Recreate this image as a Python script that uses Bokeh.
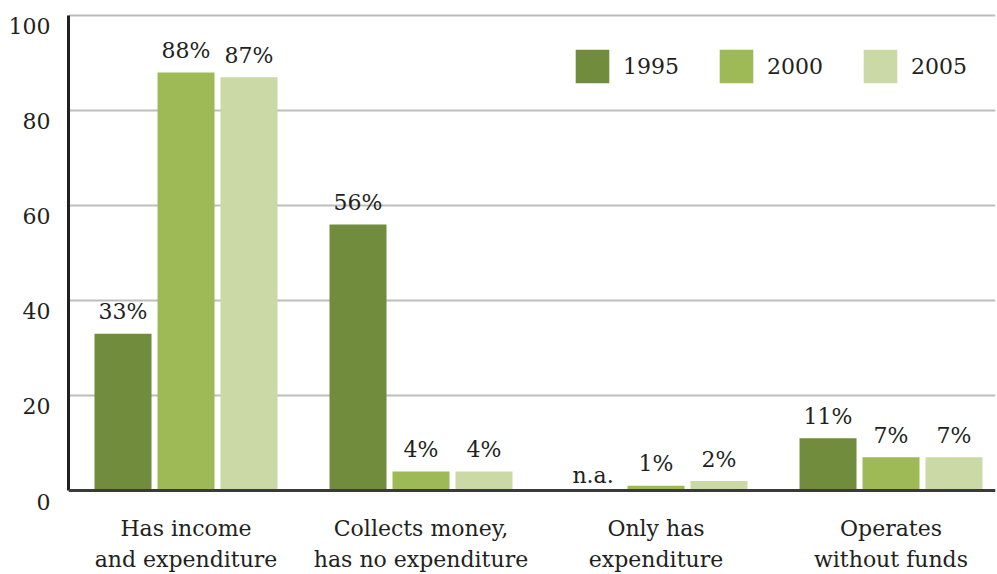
import numpy as np
from bokeh.plotting import figure
from bokeh.models import (ColumnDataSource, Range1d, FixedTicker, Legend, LegendItem,
                          LinearAxis, Span, Grid)
from bokeh.core.properties import value
from bokeh.embed import file_html
from bokeh.resources import INLINE

categories = ["Has income\nand expenditure", "Collects money,\nhas no expenditure",
              "Only has\nexpenditure", "Operates\nwithout funds"]
years = ["1995", "2000", "2005"]
v1995 = [33, 56, None, 11]
v2000 = [88, 4, 1, 7]
v2005 = [87, 4, 2, 7]
yticks = [0, 20, 40, 60, 80, 100]

colors = ["#728C3E", "#9DBA57", "#CBD9A6"]
FONT = "DejaVu Serif"
TXT = "#231F20"
FS = "22px"

PX = 4.79            # pixels per unit (layout)
DROP = 11            # px the y labels sit below their grid lines
d = DROP / PX
top_pad = 2 / PX

p = figure(width=997, height=574, output_backend="svg", toolbar_location=None,
           x_range=Range1d(0, 927 / 235), y_range=Range1d(-d, 100 + top_pad),
           y_axis_location=None,
           min_border_left=68, min_border_right=2, min_border_top=13,
           min_border_bottom=80 - DROP)
p.outline_line_color = None
p.background_fill_color = "white"

series = [v1995, v2000, v2005]
offsets = [-0.268, 0.0, 0.268]
centers = np.arange(len(categories)) + 0.5
renderers = []
for vals, off, col in zip(series, offsets, colors):
    tops = [np.nan if v is None else v for v in vals]
    labels = ["n.a." if v is None else f"{v}%" for v in vals]
    src = ColumnDataSource(dict(x=centers + off, top=tops,
                                ty=[0 if v is None else v for v in vals], lab=labels,
                                dy=[-15 if v is None else -22 for v in vals]))
    r = p.vbar(x="x", top="top", bottom=0, width=0.2426, source=src,
               fill_color=col, line_color=None)
    renderers.append(r)
    p.text(x="x", y="ty", text="lab", source=src, text_align="center",
           text_baseline="alphabetic", y_offset="dy", text_font=value(FONT),
           text_font_size=FS, text_color=TXT)

# baseline
p.add_layout(Span(location=0, dimension="width", line_color="#3A3A3A", line_width=3))

# x axis (labels only)
p.xaxis.ticker = FixedTicker(ticks=list(centers))
p.xaxis.major_label_overrides = {float(c): lab for c, lab in zip(centers, categories)}
p.xaxis.major_tick_line_color = None
p.xaxis.minor_tick_line_color = None
p.xaxis.axis_line_color = None
p.xaxis.major_label_text_font = FONT
p.xaxis.major_label_text_font_size = FS
p.xaxis.major_label_text_color = TXT
p.xaxis.major_label_text_line_height = 1.25
p.xaxis.major_label_standoff = 19 - DROP

# y axis line only (no ticks, no labels)
line_axis = LinearAxis(bounds=(yticks[0], yticks[-1]), ticker=FixedTicker(ticks=[]),
                       major_tick_line_color=None, minor_tick_line_color=None,
                       axis_line_color=TXT, axis_line_width=3, major_label_standoff=0)
p.add_layout(line_axis, "left")

# y labels on a shifted range so they sit just below their grid lines
p.extra_y_ranges = {"lab": Range1d(0, 100 + d + top_pad)}
lab_axis = LinearAxis(y_range_name="lab", ticker=FixedTicker(ticks=yticks),
                      axis_line_color=None, major_tick_line_color=None,
                      minor_tick_line_color=None, major_label_standoff=12,
                      major_label_text_font=FONT, major_label_text_font_size=FS,
                      major_label_text_color=TXT)
p.add_layout(lab_axis, "left")

p.ygrid.grid_line_color = None
p.xgrid.grid_line_color = None
p.add_layout(Grid(dimension=1, ticker=FixedTicker(ticks=yticks[1:]),
                  grid_line_color="#BDBDBD", grid_line_width=2))

legend = Legend(items=[LegendItem(label=y, renderers=[r]) for y, r in zip(years, renderers)],
                orientation="horizontal", location=(503, 403 + DROP),
                glyph_width=42, glyph_height=42, label_standoff=10, spacing=36,
                padding=0, margin=0, border_line_color=None, background_fill_alpha=0,
                label_text_font=FONT, label_text_font_size=FS, label_text_color=TXT)
p.add_layout(legend)

open("out.html", "w").write(file_html(p, INLINE))
